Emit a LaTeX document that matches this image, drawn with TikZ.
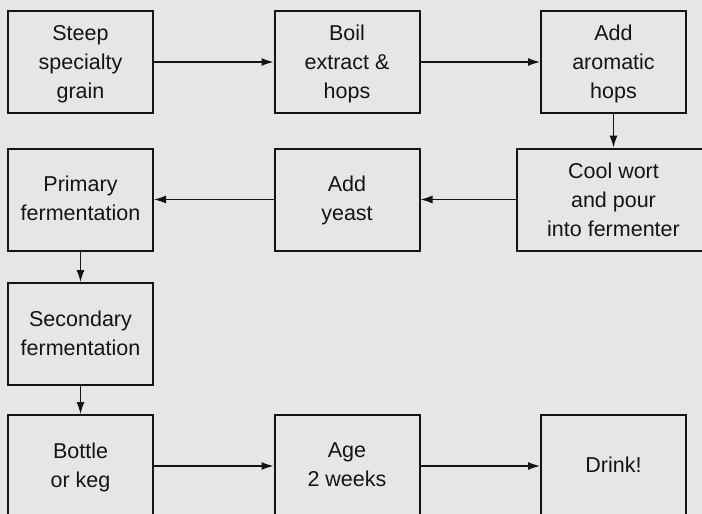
\documentclass[tikz,border=0pt]{standalone}
\usepackage{fontspec}
\setmainfont{Liberation Sans}
\usetikzlibrary{arrows.meta}
\definecolor{bg}{HTML}{E6E6E6}
\definecolor{ink}{HTML}{141414}
\begin{document}
\begin{tikzpicture}[x=1pt,y=-1pt,
  stepbox/.style={draw=ink,fill=bg,line width=2pt,minimum width=145pt,minimum height=102pt,inner sep=0pt,align=center,text=ink,text depth=2pt,font=\fontsize{21.5}{29}\selectfont},
  threeline/.style={text depth=-6pt},
  flow/.style={draw=ink,line width=1.2pt,-{Latex[length=12pt,width=8pt]}}]
\useasboundingbox (0,0) rectangle (702,514);
\clip (0,0) rectangle (702,514);
\fill[bg] (0,0) rectangle (702,514);
\node[stepbox,threeline] (steep) at (80.5,62) {Steep\\specialty\\grain};
\node[stepbox,threeline] (boil) at (347,62) {Boil\\extract \&\\hops};
\node[stepbox,threeline] (arom) at (613.5,62) {Add\\aromatic\\hops};
\node[stepbox,threeline,minimum width=194pt] (cool) at (613.5,199.5) {Cool wort\\and pour\\into fermenter};
\node[stepbox] (yeast) at (347,199.5) {Add\\yeast};
\node[stepbox] (prim) at (80.5,199.5) {Primary\\fermentation};
\node[stepbox] (sec) at (80.5,334) {Secondary\\fermentation};
\node[stepbox] (bottle) at (80.5,466) {Bottle\\or keg};
\node[stepbox] (age) at (347,466) {Age\\2 weeks};
\node[stepbox] (drink) at (613.5,466) {Drink!};
\draw[flow] (steep) -- (boil);
\draw[flow] (boil) -- (arom);
\draw[flow] (arom) -- (cool);
\draw[flow] (cool) -- (yeast);
\draw[flow] (yeast) -- (prim);
\draw[flow] (prim) -- (sec);
\draw[flow] (sec) -- (bottle);
\draw[flow] (bottle) -- (age);
\draw[flow] (age) -- (drink);
\end{tikzpicture}
\end{document}
